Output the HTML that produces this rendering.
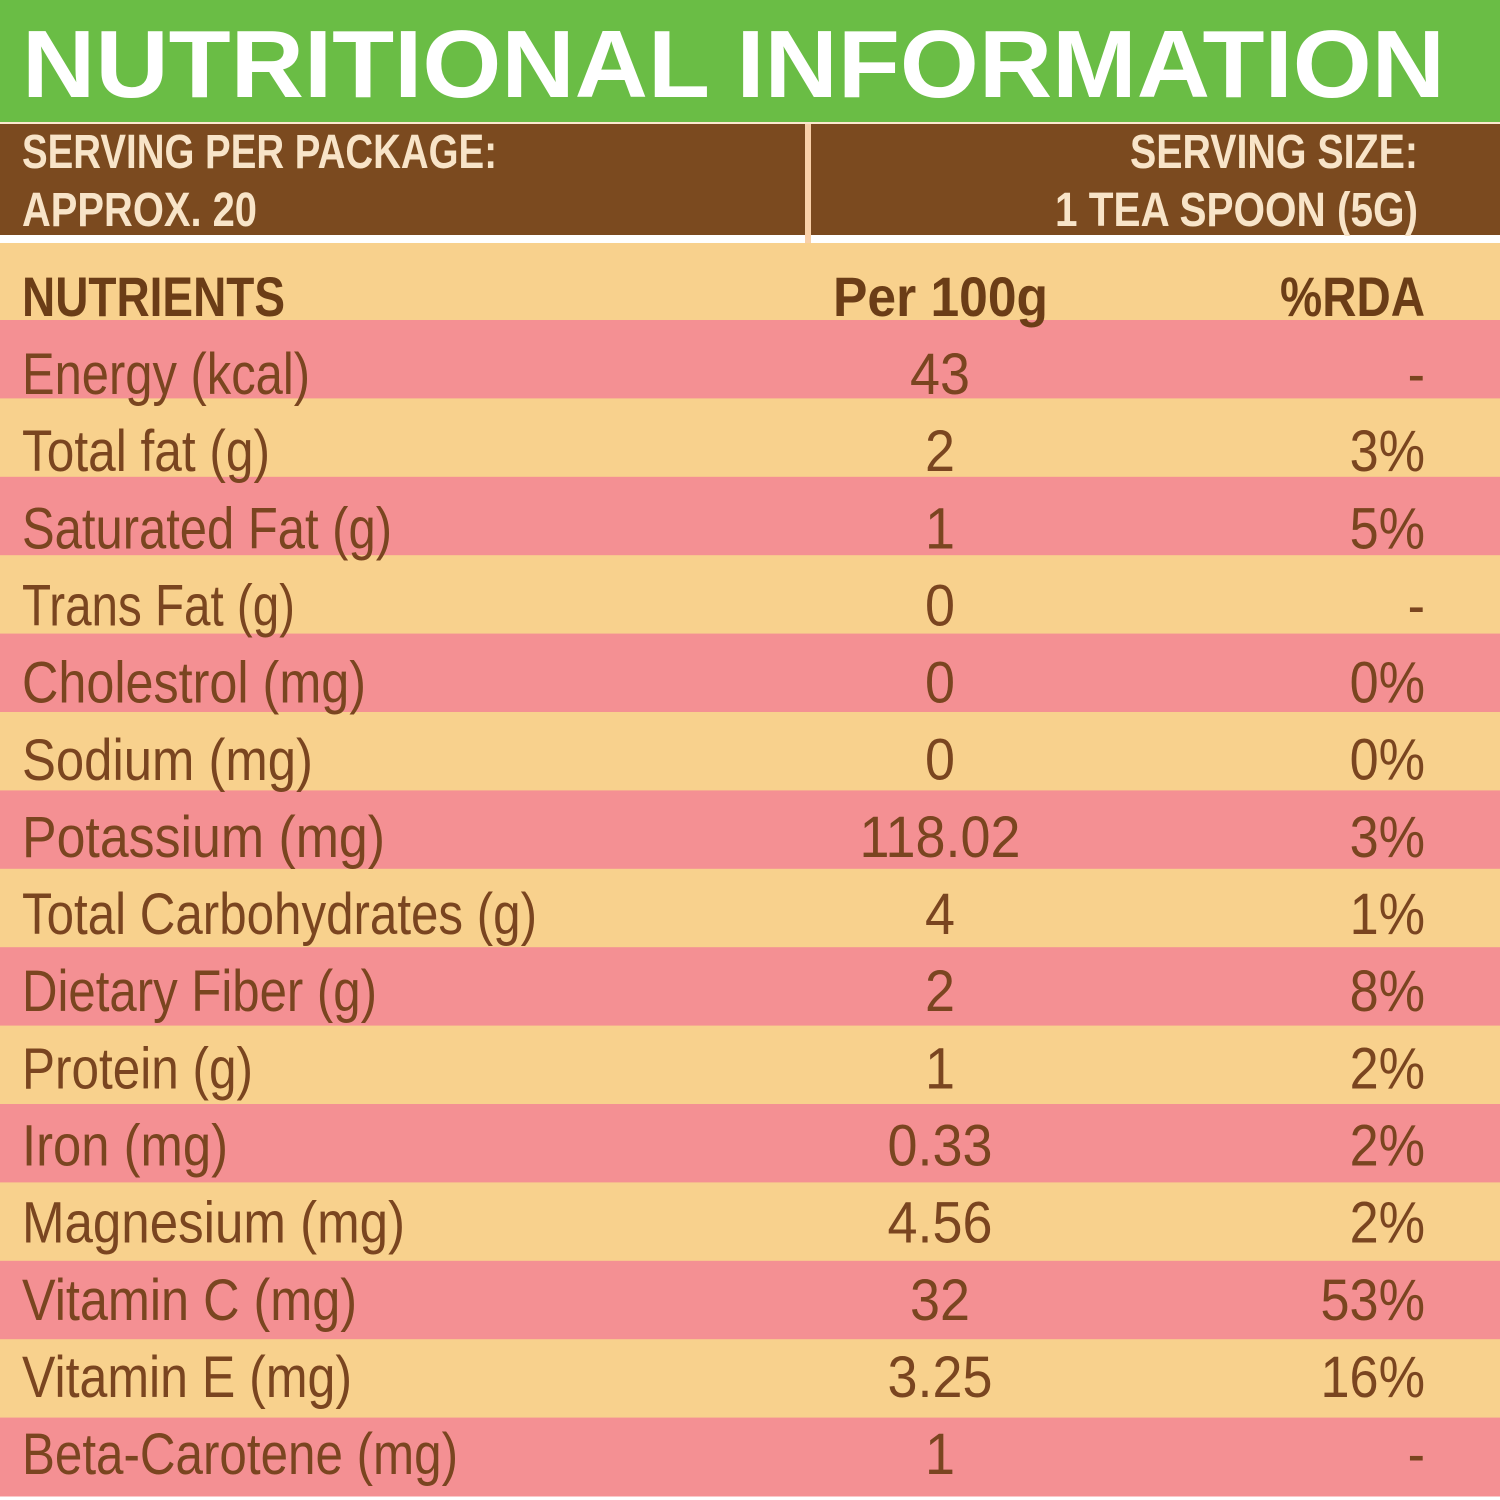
<!DOCTYPE html>
<html><head><meta charset="utf-8"><style>
html,body{margin:0;padding:0;background:#fff}
svg{display:block}
text{font-family:"Liberation Sans",sans-serif}
</style></head><body>
<svg id="s" width="1500" height="1500" viewBox="0 0 1500 1500" xmlns="http://www.w3.org/2000/svg">
<rect x="0" y="0" width="1500" height="122" fill="#6abd45"/>
<rect x="0" y="122" width="1500" height="2" fill="#fbe9cf"/>
<text x="22" y="97" font-size="96" font-weight="bold" fill="#fff" textLength="1423" lengthAdjust="spacingAndGlyphs">NUTRITIONAL INFORMATION</text>
<rect x="0" y="124" width="1500" height="111" fill="#7b4a1f"/>
<rect x="805" y="124" width="6" height="119" fill="#f9d0a8"/>
<rect x="0" y="235" width="1500" height="8" fill="#fff"/>
<rect x="805" y="235" width="6" height="8" fill="#f9d0a8"/>
<g fill="#f8e4c8" font-weight="bold" font-size="48">
<text x="22" y="168" textLength="475" lengthAdjust="spacingAndGlyphs">SERVING PER PACKAGE:</text>
<text x="22" y="226" textLength="235" lengthAdjust="spacingAndGlyphs">APPROX. 20</text>
<text x="1130" y="168" textLength="288" lengthAdjust="spacingAndGlyphs">SERVING SIZE:</text>
<text x="1055" y="226" textLength="363" lengthAdjust="spacingAndGlyphs">1 TEA SPOON (5G)</text>
</g>
<rect x="0" y="243" width="1500" height="77" fill="#f8d18d"/>
<g id="rows"></g>
<g fill="#6b3d17" font-weight="bold" font-size="56">
<text x="22" y="316" textLength="263" lengthAdjust="spacingAndGlyphs">NUTRIENTS</text>
<text x="833" y="316" textLength="215" lengthAdjust="spacingAndGlyphs">Per 100g</text>
<text x="1280" y="316" textLength="145" lengthAdjust="spacingAndGlyphs">%RDA</text>
</g>
</svg>
<script>
const nutrients=["Energy (kcal)","Total fat (g)","Saturated Fat (g)","Trans Fat (g)","Cholestrol (mg)","Sodium (mg)","Potassium  (mg)","Total Carbohydrates (g)","Dietary Fiber (g)","Protein (g)","Iron (mg)","Magnesium (mg)","Vitamin C (mg)","Vitamin E (mg)","Beta-Carotene (mg)"];
const per100g=["43","2","1","0","0","0","118.02","4","2","1","0.33","4.56","32","3.25","1"];
const rda=["-","3%","5%","-","0%","0%","3%","1%","8%","2%","2%","2%","53%","16%","-"];
const labelWidths=[288,248,370,273,344,291,363,515,355,231,206,383,335,330,436];
const NS="http://www.w3.org/2000/svg";
const g=document.getElementById("rows");
const top0=320,rowH=78.4,textPitch=77.15,base0=394;
nutrients.forEach((n,i)=>{
  const y=top0+i*rowH;
  const r=document.createElementNS(NS,"rect");
  
  
  r.setAttribute("x",0);r.setAttribute("y",y);r.setAttribute("width",1500);r.setAttribute("height",rowH+0.5);
  r.setAttribute("fill",i%2===0?"#f49093":"#f8d18d");
  g.appendChild(r);
});
nutrients.forEach((n,i)=>{
  const base=base0+i*textPitch;
  const t=document.createElementNS(NS,"text");
  
  
  t.setAttribute("x",22);t.setAttribute("y",base);t.setAttribute("font-size","58");t.setAttribute("fill","#7a4520");
  t.setAttribute("textLength",labelWidths[i]);t.setAttribute("lengthAdjust","spacingAndGlyphs");
  t.setAttribute("xml:space","preserve");
  t.textContent=n;g.appendChild(t);
  const v=document.createElementNS(NS,"text");
  
  
  v.setAttribute("x",940);v.setAttribute("y",base);v.setAttribute("font-size","58");v.setAttribute("fill","#7a4520");
  v.setAttribute("text-anchor","middle");v.setAttribute("transform","translate(940,0) scale(0.93,1) translate(-940,0)");
  v.textContent=per100g[i];g.appendChild(v);
  const p=document.createElementNS(NS,"text");
  
  
  p.setAttribute("x",1425);p.setAttribute("y",base);p.setAttribute("font-size","58");p.setAttribute("fill","#7a4520");
  p.setAttribute("text-anchor","end");p.setAttribute("transform","translate(1425,0) scale(0.9,1) translate(-1425,0)");
  p.textContent=rda[i];g.appendChild(p);
});
</script>
</body></html>
